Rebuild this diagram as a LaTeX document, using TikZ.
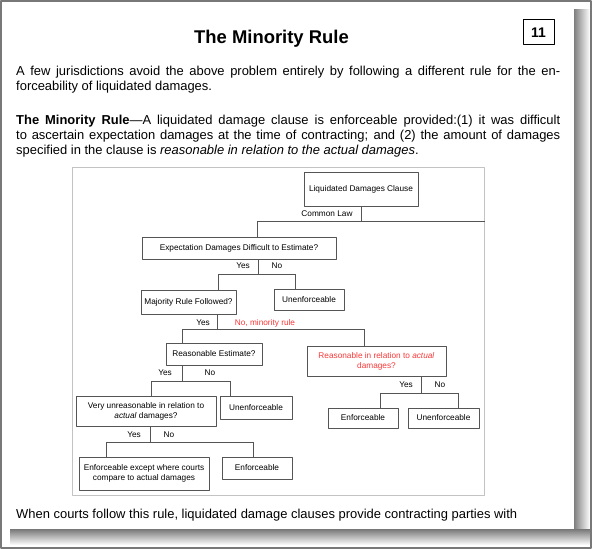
\documentclass[tikz,border=0pt]{standalone}
\usepackage{fontspec}
\setmainfont{Liberation Sans}
\usetikzlibrary{positioning}
\definecolor{boxline}{RGB}{85,85,85}
\definecolor{chartline}{RGB}{195,195,195}
\definecolor{minred}{RGB}{250,55,55}
\definecolor{pageedge}{RGB}{120,120,120}
\begin{document}
\begin{tikzpicture}[>=latex,line join=bevel,
  box/.style={draw=boxline,line width=0.8bp,inner sep=1bp,align=center,font=\fontsize{8.3}{10}\selectfont},
  lbl/.style={inner sep=0bp,font=\fontsize{8.3}{10}\selectfont},
  tree/.style={draw=boxline,line width=0.8bp},
  body/.style={anchor=base west,inner sep=0bp,text width=544bp,align=justify,font=\fontsize{13}{15}\selectfont}]
\useasboundingbox (0bp,0bp) rectangle (592bp,549bp);
%% page and shadow
\shade [left color=black!50,right color=white] (574bp,4bp) rectangle (590bp,539bp);
\shade [top color=black!50,bottom color=white] (10bp,4bp) rectangle (590bp,19bp);
\draw [pageedge,line width=1.5bp] (1bp,1bp) rectangle (591bp,548bp);
%% text
\node (title) at (271.5bp,505bp) [anchor=base,inner sep=0bp,font=\fontsize{18.5}{20}\selectfont\bfseries] {The Minority Rule};
\node (pageno) at (538.5bp,516.5bp) [draw=black,line width=1bp,minimum width=31bp,minimum height=25bp,inner sep=0bp,font=\fontsize{14}{15}\selectfont\bfseries] {11};
\node (intro) at (16bp,473bp) [body] {A few jurisdictions avoid the above problem entirely by following a different rule for the en-\linebreak forceability of liquidated damages.};
\node (rule) at (16bp,424bp) [body] {\textbf{The Minority Rule}---A liquidated damage clause is enforceable provided:(1) it was difficult\linebreak to ascertain expectation damages at the time of contracting; and (2) the amount of damages\linebreak specified in the clause is \textit{reasonable in relation to the actual damages}.};
\node (closing) at (16bp,31bp) [anchor=base west,inner sep=0bp,font=\fontsize{13}{15}\selectfont] {When courts follow this rule, liquidated damage clauses provide contracting parties with};
%% chart
\node (chart) at (278bp,217bp) [draw=chartline,line width=1bp,minimum width=412bp,minimum height=328bp,inner sep=0bp] {};
\node (clause) at (361bp,360bp) [box,minimum width=114bp,minimum height=34bp] {Liquidated Damages Clause};
\node (expect) at (239bp,301bp) [box,minimum width=194bp,minimum height=22bp] {Expectation Damages Difficult to Estimate?};
\node (majority) at (188.5bp,247bp) [box,minimum width=95bp,minimum height=24bp] {Majority Rule Followed?};
\node (unenf1) at (309bp,249bp) [box,minimum width=70bp,minimum height=21bp] {Unenforceable};
\node (estimate) at (214bp,195bp) [box,minimum width=96bp,minimum height=22bp] {Reasonable Estimate?};
\node (reason) at (376.5bp,188bp) [box,text=minred,minimum width=139bp,minimum height=30bp] {Reasonable in relation to \textit{actual}\\damages?};
\node (veryun) at (146bp,138bp) [box,minimum width=140bp,minimum height=30bp] {Very unreasonable in relation to\\\textit{actual} damages?};
\node (unenf2) at (256bp,141.5bp) [box,minimum width=72bp,minimum height=23bp] {Unenforceable};
\node (enf2) at (363bp,131bp) [box,minimum width=70bp,minimum height=20bp] {Enforceable};
\node (unenf3) at (443.5bp,131bp) [box,minimum width=71bp,minimum height=20bp] {Unenforceable};
\node (except) at (144bp,75.5bp) [box,minimum width=130bp,minimum height=33bp] {Enforceable except where courts\\compare to actual damages};
\node (enf1) at (257bp,81bp) [box,minimum width=70bp,minimum height=22bp] {Enforceable};
%% labels
\node (common) at (327bp,335bp) [lbl] {Common Law};
\node (yes1) at (243bp,283bp) [lbl] {Yes};
\node (no1) at (277bp,283bp) [lbl] {No};
\node (yes2) at (203bp,226bp) [lbl] {Yes};
\node (no2) at (265bp,226bp) [lbl,text=minred] {No, minority rule};
\node (yes3) at (165bp,176bp) [lbl] {Yes};
\node (no3) at (210bp,176bp) [lbl] {No};
\node (yes4) at (134bp,114bp) [lbl] {Yes};
\node (no4) at (169bp,114bp) [lbl] {No};
\node (yes5) at (406bp,164bp) [lbl] {Yes};
\node (no5) at (440bp,164bp) [lbl] {No};
%% connectors
\coordinate (cl) at (257bp,328bp);
\draw [tree] (clause.south) -- (clause.south |- cl);
\draw [tree] (cl) -- (chart.east |- cl);
\draw [tree] (cl) -- (cl |- expect.north);
%
\coordinate (j1) at (258bp,275bp);
\coordinate (j1l) at (218bp,275bp);
\coordinate (j1r) at (295bp,275bp);
\draw [tree] (j1 |- expect.south) -- (j1);
\draw [tree] (j1l) -- (j1r);
\draw [tree] (j1l) -- (j1l |- majority.north);
\draw [tree] (j1r) -- (j1r |- unenf1.north);
%
\coordinate (j2) at (217bp,220bp);
\coordinate (j2l) at (182bp,220bp);
\coordinate (j2r) at (364bp,220bp);
\draw [tree] (j2 |- majority.south) -- (j2);
\draw [tree] (j2l) -- (j2r);
\draw [tree] (j2l) -- (j2l |- estimate.north);
\draw [tree] (j2r) -- (j2r |- reason.north);
%
\coordinate (j3) at (182bp,168bp);
\coordinate (j3l) at (151bp,168bp);
\coordinate (j3r) at (230bp,168bp);
\draw [tree] (j3 |- estimate.south) -- (j3);
\draw [tree] (j3l) -- (j3r);
\draw [tree] (j3l) -- (j3l |- veryun.north);
\draw [tree] (j3r) -- (j3r |- unenf2.north);
%
\coordinate (j4) at (150bp,107bp);
\coordinate (j4l) at (106bp,107bp);
\coordinate (j4r) at (253bp,107bp);
\draw [tree] (j4 |- veryun.south) -- (j4);
\draw [tree] (j4l) -- (j4r);
\draw [tree] (j4l) -- (j4l |- except.north);
\draw [tree] (j4r) -- (j4r |- enf1.north);
%
\coordinate (j5) at (421bp,156bp);
\coordinate (j5l) at (380bp,156bp);
\coordinate (j5r) at (458bp,156bp);
\draw [tree] (j5 |- reason.south) -- (j5);
\draw [tree] (j5l) -- (j5r);
\draw [tree] (j5l) -- (j5l |- enf2.north);
\draw [tree] (j5r) -- (j5r |- unenf3.north);
%
\end{tikzpicture}
\end{document}
